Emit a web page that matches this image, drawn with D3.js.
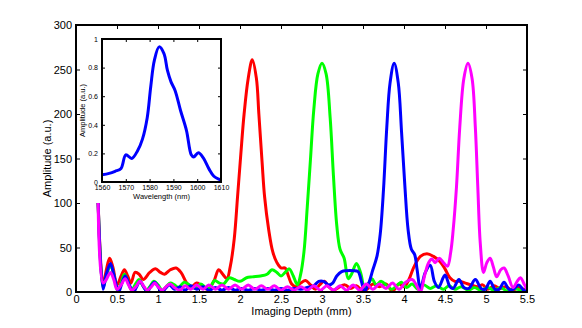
<!DOCTYPE html>
<html>
<head>
<meta charset="utf-8">
<script src="https://cdn.jsdelivr.net/npm/d3@7"></script>
<style>
  body { margin: 0; background: #fff; }
  svg text { font-family: "Liberation Sans", Arial, sans-serif; fill: #000; }
</style>
</head>
<body>
<svg id="chart" width="582" height="328"></svg>
<script>
// depth (mm), amplitude (a.u.) pairs
const redSeries = [[0.27,100],[0.33,8],[0.37,25],[0.41,38],[0.45,28],[0.5,8],[0.55,18],[0.59,25],[0.63,18],[0.67,10],[0.72,22],[0.77,20],[0.82,14],[0.9,22],[0.97,26],[1.03,22],[1.08,20],[1.15,25],[1.22,27],[1.28,22],[1.35,10],[1.4,5],[1.47,10],[1.52,8],[1.6,3],[1.68,12],[1.74,25],[1.79,20],[1.84,15],[1.88,28],[1.93,60],[1.97,107],[2.01,155],[2.05,200],[2.1,240],[2.15,261],[2.2,240],[2.23,200],[2.27,145],[2.3,107],[2.35,70],[2.4,45],[2.45,33],[2.5,27],[2.55,27],[2.59,18],[2.63,9],[2.68,6],[2.74,10],[2.8,13],[2.86,8],[2.92,3],[2.97,8],[3.03,12],[3.08,6],[3.14,2],[3.2,5],[3.28,8],[3.35,4],[3.42,7],[3.5,1],[3.56,4],[3.62,9],[3.7,6],[3.78,9],[3.86,1],[3.94,9],[4.0,6],[4.06,14],[4.12,28],[4.2,40],[4.28,43],[4.36,40],[4.44,34],[4.5,26],[4.56,16],[4.62,12],[4.68,12],[4.75,10],[4.82,8],[4.9,6],[4.96,8],[5.02,3],[5.1,7],[5.17,4],[5.24,6],[5.32,2],[5.4,5],[5.46,3],[5.5,1]];

const greenSeries = [[0.27,100],[0.33,5],[0.37,18],[0.42,30],[0.46,20],[0.51,1],[0.55,10],[0.59,20],[0.63,12],[0.68,2],[0.72,8],[0.77,14],[0.81,8],[0.86,2],[0.9,6],[0.95,12],[1.0,8],[1.05,2],[1.1,6],[1.15,10],[1.2,8],[1.25,5],[1.32,11],[1.38,8],[1.45,4],[1.52,9],[1.58,5],[1.63,4],[1.69,13],[1.75,10],[1.8,9],[1.87,16],[1.93,14],[2.0,12],[2.08,16],[2.15,17],[2.25,18],[2.33,20],[2.39,25],[2.45,22],[2.5,18],[2.55,22],[2.6,26],[2.65,18],[2.7,8],[2.74,20],[2.78,45],[2.82,95],[2.86,150],[2.9,205],[2.95,245],[3.0,257],[3.05,245],[3.1,195],[3.14,130],[3.18,75],[3.22,48],[3.27,38],[3.32,15],[3.36,20],[3.42,32],[3.47,22],[3.52,5],[3.57,10],[3.61,15],[3.66,8],[3.72,12],[3.78,8],[3.85,3],[3.92,8],[3.97,11],[4.03,5],[4.1,9],[4.17,3],[4.24,8],[4.32,4],[4.4,7],[4.48,3],[4.55,7],[4.62,3],[4.7,6],[4.78,2],[4.86,5],[4.94,2],[5.02,5],[5.1,2],[5.18,5],[5.26,1],[5.34,4],[5.42,2],[5.5,1]];

const blueSeries = [[0.27,100],[0.33,3],[0.37,20],[0.42,32],[0.46,20],[0.52,0],[0.56,10],[0.6,18],[0.65,8],[0.7,0],[0.74,6],[0.78,12],[0.83,5],[0.87,0],[0.91,6],[0.96,11],[1.0,6],[1.05,0],[1.1,5],[1.14,8],[1.2,3],[1.27,6],[1.33,2],[1.4,7],[1.47,3],[1.55,6],[1.62,2],[1.7,5],[1.78,2],[1.86,5],[1.94,2],[2.02,4],[2.1,2],[2.18,4],[2.26,2],[2.34,4],[2.42,2],[2.5,4],[2.58,2],[2.66,4],[2.74,3],[2.82,5],[2.9,7],[2.96,12],[3.02,12],[3.08,8],[3.13,10],[3.18,18],[3.24,23],[3.3,24],[3.38,24],[3.44,23],[3.48,12],[3.52,1],[3.57,10],[3.62,25],[3.67,40],[3.71,65],[3.75,115],[3.79,185],[3.83,235],[3.88,257],[3.93,235],[3.97,180],[4.01,120],[4.05,70],[4.09,48],[4.13,42],[4.16,25],[4.2,4],[4.26,22],[4.32,30],[4.37,12],[4.42,5],[4.5,19],[4.56,6],[4.6,4],[4.67,14],[4.73,5],[4.79,4],[4.87,14],[4.94,4],[4.99,3],[5.05,12],[5.11,3],[5.16,3],[5.22,11],[5.28,3],[5.33,3],[5.4,8],[5.46,2],[5.5,3]];

const magentaSeries = [[0.27,100],[0.33,10],[0.37,14],[0.42,22],[0.46,14],[0.5,3],[0.55,8],[0.6,15],[0.64,8],[0.68,2],[0.73,6],[0.78,12],[0.83,6],[0.87,2],[0.92,6],[0.96,10],[1.0,6],[1.05,2],[1.1,6],[1.15,9],[1.2,5],[1.27,2],[1.33,7],[1.4,3],[1.47,8],[1.55,3],[1.62,8],[1.7,3],[1.78,8],[1.86,3],[1.94,8],[2.02,3],[2.1,8],[2.18,3],[2.26,7],[2.34,3],[2.42,7],[2.5,2],[2.58,6],[2.66,2],[2.74,6],[2.82,2],[2.9,7],[2.98,2],[3.06,7],[3.14,2],[3.22,7],[3.3,2],[3.38,8],[3.46,2],[3.54,9],[3.62,3],[3.7,9],[3.78,4],[3.86,10],[3.94,3],[4.02,11],[4.1,14],[4.15,8],[4.2,0],[4.25,18],[4.3,33],[4.34,37],[4.38,33],[4.43,38],[4.48,33],[4.53,29],[4.57,45],[4.6,70],[4.64,118],[4.68,185],[4.73,240],[4.78,257],[4.83,240],[4.87,185],[4.9,118],[4.93,55],[4.97,22],[5.01,33],[5.05,38],[5.09,28],[5.13,17],[5.18,25],[5.22,27],[5.27,18],[5.33,5],[5.38,12],[5.42,16],[5.47,8],[5.5,3]];

const seriesColors = ["#ff0000", "#00ff00", "#0000ff", "#ff00ff"];

const xTicks = [0, 0.5, 1, 1.5, 2, 2.5, 3, 3.5, 4, 4.5, 5, 5.5];
const yTicks = [0, 50, 100, 150, 200, 250, 300];

// inset spectrum: wavelength (nm), normalised amplitude
const specWavelength = [1560,1563,1565.5,1568,1570,1572.5,1575,1577,1579,1580.5,1582,1584,1586,1587.5,1589,1590.7,1593,1595.5,1597.5,1598.5,1600.5,1602.5,1605,1607,1609,1610];
const specAmp = [0.05,0.06,0.075,0.095,0.19,0.165,0.22,0.3,0.45,0.67,0.85,0.945,0.9,0.78,0.7,0.64,0.5,0.36,0.19,0.175,0.205,0.17,0.09,0.04,0.02,0.015];
const specXTicks = [1560, 1570, 1580, 1590, 1600, 1610];
const specYTicks = [0, 0.2, 0.4, 0.6, 0.8, 1];

const svg = d3.select("#chart");

// main axes
const m = {left: 76, right: 527, top: 25, bottom: 292};
const x = d3.scaleLinear().domain([0, 5.5]).range([m.left, m.right]);
const y = d3.scaleLinear().domain([0, 300]).range([m.bottom, m.top]);

const fmt = d => String(d);

svg.append("g")
  .attr("transform", `translate(0,${m.bottom})`)
  .call(d3.axisBottom(x).tickValues(xTicks).tickFormat(fmt).tickSizeInner(-4).tickSizeOuter(0).tickPadding(3))
  .call(g => g.select(".domain").remove())
  .call(g => g.selectAll("text").attr("font-size", 11))
  .call(g => g.selectAll("line").attr("stroke-width", 1));

svg.append("g")
  .attr("transform", `translate(${m.left},0)`)
  .call(d3.axisLeft(y).tickValues(yTicks).tickSizeInner(-4).tickSizeOuter(0).tickPadding(4))
  .call(g => g.select(".domain").remove())
  .call(g => g.selectAll("text").attr("font-size", 11))
  .call(g => g.selectAll("line").attr("stroke-width", 1));

// mirrored ticks on top and right
svg.append("g")
  .attr("transform", `translate(0,${m.top})`)
  .call(d3.axisTop(x).tickValues(xTicks).tickFormat("").tickSizeInner(-4).tickSizeOuter(0))
  .call(g => g.select(".domain").remove());
svg.append("g")
  .attr("transform", `translate(${m.right},0)`)
  .call(d3.axisRight(y).tickValues(yTicks).tickFormat("").tickSizeInner(-4).tickSizeOuter(0))
  .call(g => g.select(".domain").remove());

svg.append("defs").append("clipPath").attr("id", "mainClip")
  .append("rect").attr("x", m.left).attr("y", m.top)
  .attr("width", m.right - m.left).attr("height", m.bottom - m.top);

const line = d3.line()
  .x(d => x(d[0]))
  .y(d => y(d[1]))
  .curve(d3.curveCatmullRom.alpha(0.5));

const allSeries = [redSeries, greenSeries, blueSeries, magentaSeries];
svg.append("g").attr("clip-path", "url(#mainClip)")
  .selectAll("path")
  .data(allSeries).enter().append("path")
  .attr("d", line)
  .attr("fill", "none")
  .attr("stroke", (d, i) => seriesColors[i])
  .attr("stroke-width", 3)
  .attr("stroke-linejoin", "round");

// box
svg.append("rect")
  .attr("x", m.left).attr("y", m.top)
  .attr("width", m.right - m.left).attr("height", m.bottom - m.top)
  .attr("fill", "none").attr("stroke", "#000").attr("stroke-width", 2);

svg.append("text")
  .attr("x", (m.left + m.right) / 2).attr("y", 315)
  .attr("text-anchor", "middle").attr("font-size", 11)
  .text("Imaging Depth (mm)");

svg.append("text")
  .attr("transform", `translate(51,${(m.top + m.bottom) / 2}) rotate(-90)`)
  .attr("text-anchor", "middle").attr("font-size", 11)
  .text("Amplitude (a.u.)");

// inset
const n = {left: 102, right: 221, top: 39, bottom: 182};
const ix = d3.scaleLinear().domain([1560, 1610]).range([n.left, n.right]);
const iy = d3.scaleLinear().domain([0, 1]).range([n.bottom, n.top]);

const inset = svg.append("g");
inset.append("rect")
  .attr("x", n.left).attr("y", n.top)
  .attr("width", n.right - n.left).attr("height", n.bottom - n.top)
  .attr("fill", "#fff");

inset.append("g")
  .attr("transform", `translate(0,${n.bottom})`)
  .call(d3.axisBottom(ix).tickValues(specXTicks).tickFormat(fmt).tickSizeInner(-3).tickSizeOuter(0).tickPadding(3))
  .call(g => g.select(".domain").remove())
  .call(g => g.selectAll("text").attr("font-size", 7));
inset.append("g")
  .attr("transform", `translate(${n.left},0)`)
  .call(d3.axisLeft(iy).tickValues(specYTicks).tickFormat(fmt).tickSizeInner(-3).tickSizeOuter(0).tickPadding(4))
  .call(g => g.select(".domain").remove())
  .call(g => g.selectAll("text").attr("font-size", 7));
inset.append("g")
  .attr("transform", `translate(0,${n.top})`)
  .call(d3.axisTop(ix).tickValues(specXTicks).tickFormat("").tickSizeInner(-3).tickSizeOuter(0))
  .call(g => g.select(".domain").remove());
inset.append("g")
  .attr("transform", `translate(${n.right},0)`)
  .call(d3.axisRight(iy).tickValues(specYTicks).tickFormat("").tickSizeInner(-3).tickSizeOuter(0))
  .call(g => g.select(".domain").remove());

const spec = specWavelength.map((w, i) => [w, specAmp[i]]);
inset.append("path")
  .datum(spec)
  .attr("d", d3.line().x(d => ix(d[0])).y(d => iy(d[1])).curve(d3.curveCatmullRom.alpha(0.5)))
  .attr("fill", "none")
  .attr("stroke", "#0000ff")
  .attr("stroke-width", 3)
  .attr("stroke-linejoin", "round");

inset.append("rect")
  .attr("x", n.left).attr("y", n.top)
  .attr("width", n.right - n.left).attr("height", n.bottom - n.top)
  .attr("fill", "none").attr("stroke", "#000").attr("stroke-width", 2);

inset.append("text")
  .attr("x", (n.left + n.right) / 2).attr("y", 199)
  .attr("text-anchor", "middle").attr("font-size", 7.5)
  .text("Wavelength (nm)");

inset.append("text")
  .attr("transform", `translate(85,${(n.top + n.bottom) / 2}) rotate(-90)`)
  .attr("text-anchor", "middle").attr("font-size", 7.5)
  .text("Amplitude (a.u.)");
</script>
</body>
</html>
